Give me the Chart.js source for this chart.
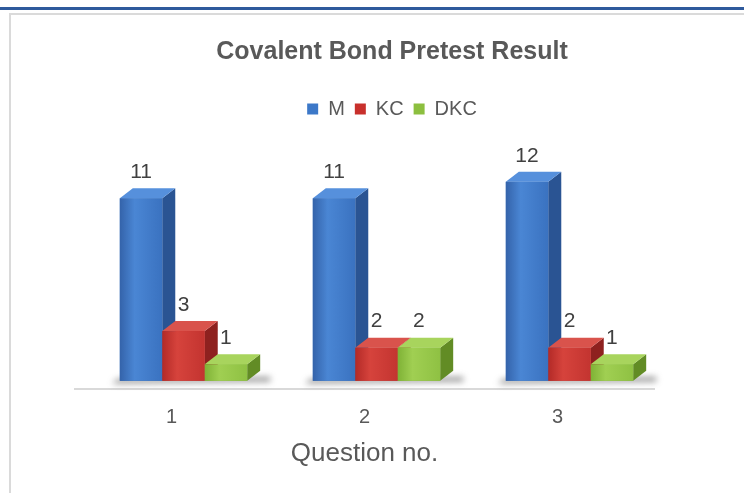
<!DOCTYPE html>
<html>
<head>
<meta charset="utf-8">
<script src="https://cdn.jsdelivr.net/npm/chart.js@4/dist/chart.umd.min.js"></script>
<style>
  body { margin: 0; background: #fff; overflow: hidden; width: 744px; height: 493px; }
  .topline { position: absolute; left: 0; top: 7px; width: 744px; height: 3px; background: #2f5a9c; }
  .frame { position: absolute; left: 9px; top: 13px; width: 800px; height: 500px;
           border-left: 2px solid #dadada; border-top: 2px solid #dadada; }
  .frame canvas { position: absolute; left: 0; top: 0; }
</style>
</head>
<body>
<div class="topline"></div>
<div class="frame">
  <canvas id="chart" width="764" height="478" style="width:764px;height:478px"></canvas>
</div>
<script>
// chart data
const categories = ['1', '2', '3'];
const seriesNames = ['M', 'KC', 'DKC'];
const mValues = [11, 11, 12];
const kcValues = [3, 2, 2];
const dkcValues = [1, 2, 1];

const FONT = "'Liberation Sans', Arial, sans-serif";
const DEPTH_X = 13;
const DEPTH_Y = -10;
const SHIFT = 12;

// colours for the 3d faces, one entry per series
const faces = [
  { flat: '#3c78c8', front: ['#3463aa', '#4a86d4', '#3a72c0'], side: '#2a5493', top: '#5690dc' },
  { flat: '#c8302c', front: ['#b32a27', '#d6433c', '#c33430'], side: '#8e211f', top: '#d9534c' },
  { flat: '#8cbf3f', front: ['#7fb236', '#a0cf52', '#8fc143'], side: '#628c25', top: '#a8d45d' }
];

// draws side/top faces, gradient fronts and the value labels
const bar3d = {
  id: 'bar3d',
  beforeDatasetsDraw(chart) {
    chart.ctx.save();
    chart.ctx.translate(SHIFT, 0);
  },
  afterDatasetsDraw(chart) {
    const ctx = chart.ctx;
    const metas = chart.data.datasets.map((d, i) => chart.getDatasetMeta(i));

    categories.forEach((c, j) => {
      const first = metas[0].data[j];
      const last = metas[metas.length - 1].data[j];
      const left = first.x - first.width / 2;
      const right = last.x + last.width / 2 + DEPTH_X;

      // floor shadow
      ctx.save();
      ctx.filter = 'blur(3px)';
      ctx.fillStyle = 'rgba(70,70,70,0.55)';
      ctx.beginPath();
      ctx.moveTo(left - 8, first.base + 3);
      ctx.lineTo(right + 10, first.base + 1);
      ctx.lineTo(right + 10, first.base - 4);
      ctx.lineTo(left - 2, first.base - 2);
      ctx.closePath();
      ctx.fill();
      ctx.restore();

      metas.forEach((meta, i) => {
        const el = meta.data[j];
        const x0 = el.x - el.width / 2;
        const x1 = el.x + el.width / 2;
        const top = el.y;
        const base = el.base;
        const f = faces[i];

        // right side
        ctx.fillStyle = f.side;
        ctx.beginPath();
        ctx.moveTo(x1, base);
        ctx.lineTo(x1 + DEPTH_X, base + DEPTH_Y);
        ctx.lineTo(x1 + DEPTH_X, top + DEPTH_Y);
        ctx.lineTo(x1, top);
        ctx.closePath();
        ctx.fill();

        // top
        ctx.fillStyle = f.top;
        ctx.beginPath();
        ctx.moveTo(x0, top);
        ctx.lineTo(x0 + DEPTH_X, top + DEPTH_Y);
        ctx.lineTo(x1 + DEPTH_X, top + DEPTH_Y);
        ctx.lineTo(x1, top);
        ctx.closePath();
        ctx.fill();

        // front
        const g = ctx.createLinearGradient(x0, 0, x1, 0);
        g.addColorStop(0, f.front[0]);
        g.addColorStop(0.35, f.front[1]);
        g.addColorStop(1, f.front[2]);
        ctx.fillStyle = g;
        ctx.fillRect(x0, top, x1 - x0, base - top);
      });
    });

    // value labels
    ctx.fillStyle = '#404040';
    ctx.font = '21px ' + FONT;
    ctx.textAlign = 'center';
    ctx.textBaseline = 'middle';
    metas.forEach((meta, i) => {
      meta.data.forEach((el, j) => {
        ctx.fillText(String(chart.data.datasets[i].data[j]), el.x, el.y - 26);
      });
    });

    ctx.restore();
  }
};

new Chart(document.getElementById('chart'), {
  type: 'bar',
  data: {
    labels: categories,
    datasets: [
      { label: seriesNames[0], data: mValues, backgroundColor: faces[0].flat },
      { label: seriesNames[1], data: kcValues, backgroundColor: faces[1].flat },
      { label: seriesNames[2], data: dkcValues, backgroundColor: faces[2].flat }
    ]
  },
  options: {
    responsive: false,
    animation: false,
    layout: { padding: { left: 64, right: 66, top: 0, bottom: 24 } },
    datasets: { bar: { categoryPercentage: 0.66, barPercentage: 1 } },
    plugins: {
      title: {
        display: true,
        text: 'Covalent Bond Pretest Result',
        color: '#595959',
        font: { family: FONT, size: 25, weight: 'bold', lineHeight: 1.2 },
        padding: { top: 22, bottom: 22 }
      },
      legend: {
        display: true,
        labels: {
          color: '#595959',
          font: { family: FONT, size: 20, lineHeight: 1.2 },
          boxWidth: 11,
          boxHeight: 11,
          padding: 10
        }
      },
      tooltip: { enabled: false }
    },
    scales: {
      x: {
        grid: { display: false },
        border: { display: true, color: '#d9d9d9', width: 2 },
        ticks: { color: '#595959', font: { family: FONT, size: 20 }, padding: 9 },
        title: {
          display: true,
          text: 'Question no.',
          color: '#595959',
          font: { family: FONT, size: 26, lineHeight: 1.2 },
          padding: { top: -1, bottom: 0 }
        }
      },
      y: {
        position: 'right',
        min: -0.48,
        max: 15.18,
        grid: { display: false },
        border: { display: false },
        ticks: { display: false },
        // empty space on the right, keeps the plot left of the centred title
        afterFit(scale) { scale.width = 55; }
      }
    }
  },
  plugins: [bar3d]
});
</script>
</body>
</html>
